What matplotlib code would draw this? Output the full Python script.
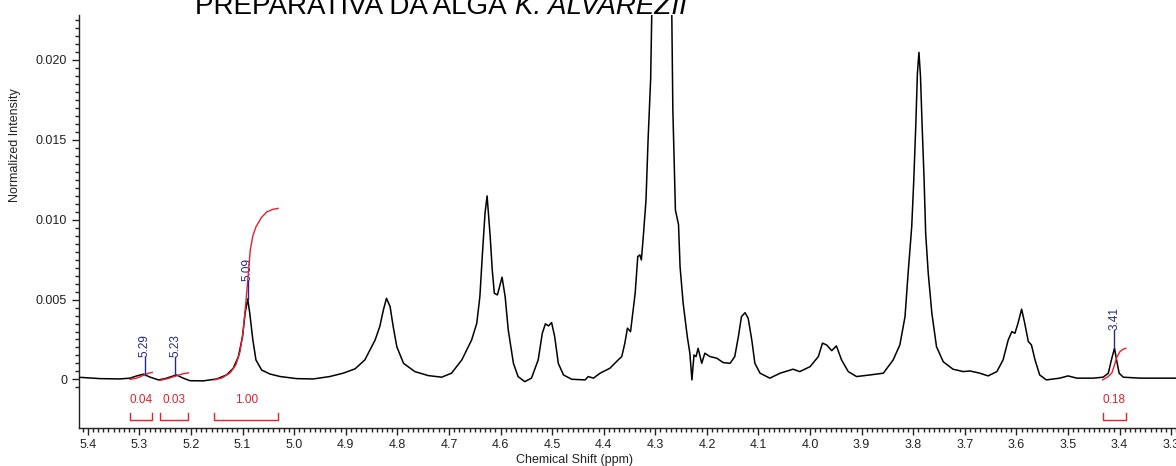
import numpy as np
import matplotlib.pyplot as plt
from matplotlib.ticker import MultipleLocator, FixedLocator

plt.rcParams['font.family'] = ['Liberation Sans', 'DejaVu Sans']

# 1H spectrum: chemical shift (ppm) and normalized intensity (x 1e-3)
shift = [5.415, 5.376, 5.338, 5.318, 5.305, 5.292, 5.279, 5.263, 5.250, 5.228,
         5.215, 5.202, 5.176, 5.150, 5.131, 5.118, 5.108, 5.100, 5.095, 5.090,
         5.086, 5.080, 5.074, 5.063, 5.047, 5.027, 4.995, 4.963, 4.931, 4.905,
         4.882, 4.863, 4.843, 4.834, 4.827, 4.821, 4.814, 4.808, 4.801, 4.788,
         4.766, 4.740, 4.714, 4.695, 4.675, 4.656, 4.646, 4.640, 4.635, 4.630,
         4.626, 4.624, 4.620, 4.616, 4.612, 4.606, 4.601, 4.597, 4.591, 4.585,
         4.575, 4.566, 4.553, 4.540, 4.527, 4.519, 4.513, 4.507, 4.501, 4.495,
         4.488, 4.478, 4.462, 4.436, 4.430, 4.420, 4.407, 4.388, 4.372, 4.365,
         4.359, 4.354, 4.348, 4.339, 4.334, 4.330, 4.327, 4.323, 4.318, 4.314,
         4.309, 4.307, 4.296, 4.285, 4.274, 4.268, 4.266, 4.261, 4.255, 4.252,
         4.246, 4.238, 4.233, 4.229, 4.225, 4.221, 4.217, 4.210, 4.204, 4.194,
         4.181, 4.168, 4.155, 4.146, 4.139, 4.133, 4.126, 4.120, 4.113, 4.107,
         4.097, 4.078, 4.058, 4.033, 4.020, 4.000, 3.984, 3.976, 3.968, 3.958,
         3.949, 3.939, 3.926, 3.910, 3.884, 3.858, 3.839, 3.826, 3.816, 3.810,
         3.803, 3.799, 3.795, 3.792, 3.789, 3.786, 3.783, 3.779, 3.776, 3.771,
         3.764, 3.755, 3.742, 3.723, 3.703, 3.690, 3.671, 3.655, 3.638, 3.626,
         3.616, 3.609, 3.603, 3.597, 3.590, 3.584, 3.577, 3.571, 3.564, 3.555,
         3.542, 3.516, 3.500, 3.483, 3.451, 3.432, 3.422, 3.416, 3.410, 3.406,
         3.401, 3.393, 3.361, 3.322, 3.291, 3.250]
intensity = [0.13, 0.05, 0.03, 0.08, 0.22, 0.33, 0.14, -0.03, 0.05, 0.28,
             0.08, -0.08, -0.09, 0.03, 0.28, 0.70, 1.43, 2.68, 4.15, 5.04,
             4.15, 2.47, 1.22, 0.59, 0.34, 0.18, 0.05, 0.03, 0.18, 0.39,
             0.66, 1.22, 2.47, 3.31, 4.35, 5.08, 4.56, 3.31, 2.05, 1.01,
             0.49, 0.24, 0.14, 0.39, 1.22, 2.47, 3.52, 5.18, 7.90, 10.41,
             11.49, 10.61, 8.94, 6.86, 5.40, 5.29, 5.92, 6.40, 5.18, 3.10,
             1.01, 0.18, -0.14, 0.08, 1.22, 2.89, 3.48, 3.35, 3.56, 2.68,
             1.01, 0.28, 0.01, -0.03, 0.18, 0.08, 0.39, 0.70, 1.22, 1.43,
             2.27, 3.21, 2.99, 5.40, 7.69, 7.80, 7.48, 9.05, 11.24, 15.0,
             18.8, 22.8, 40.0, 50.0, 40.0, 22.8, 16.9, 10.6, 9.7, 7.06,
             4.77, 2.68, 1.64, -0.03, 1.53, 1.43, 1.95, 1.01, 1.64, 1.43,
             1.33, 1.05, 1.01, 1.43, 2.68, 3.93, 4.18, 3.83, 2.47, 1.01,
             0.39, 0.08, 0.39, 0.64, 0.49, 0.80, 1.43, 2.27, 2.16, 1.80,
             2.10, 1.22, 0.49, 0.18, 0.28, 0.39, 1.22, 2.16, 3.93, 6.65,
             9.57, 12.49, 16.04, 19.17, 20.48, 18.96, 16.04, 12.49, 9.15, 6.65,
             4.15, 2.05, 1.11, 0.64, 0.49, 0.53, 0.39, 0.22, 0.49, 1.22,
             2.47, 2.99, 2.89, 3.52, 4.40, 3.52, 2.37, 2.16, 1.22, 0.28,
             -0.03, 0.08, 0.22, 0.08, 0.08, 0.14, 0.39, 1.22, 1.95, 1.22,
             0.39, 0.14, 0.08, 0.08, 0.08, 0.08]

# integral traces over each integrated region (x 1e-3)
integral_shift = [
    [5.318, 5.304, 5.293, 5.283, 5.275],
    [5.260, 5.244, 5.229, 5.217, 5.205],
    [5.155, 5.140, 5.124, 5.113, 5.105, 5.099, 5.094, 5.089, 5.085, 5.080,
     5.074, 5.064, 5.053, 5.041, 5.031],
    [3.433, 3.423, 3.415, 3.410, 3.406, 3.400, 3.394, 3.388],
]
integral_level = [
    [0.00, 0.09, 0.25, 0.38, 0.44],
    [-0.06, 0.06, 0.22, 0.34, 0.41],
    [-0.03, 0.09, 0.41, 0.91, 1.72, 2.97, 4.67, 6.54, 8.11, 8.99,
     9.55, 10.11, 10.49, 10.65, 10.71],
    [-0.03, 0.16, 0.41, 0.91, 1.35, 1.72, 1.88, 1.95],
]

# integration limits and relative areas
integral_ranges = [(5.318, 5.275), (5.260, 5.205), (5.155, 5.031), (3.433, 3.388)]
integral_values = ['0.04', '0.03', '1.00', '0.18']

# picked peaks
peaks = [5.29, 5.23, 5.09, 3.41]

red = '#e8202c'
navy = '#28288c'

shift = np.array(shift)
intensity = np.array(intensity) * 1e-3

fig = plt.figure(figsize=(11.76, 4.66), dpi=100)
ax = fig.add_axes([0.0672, 0.0816, 0.9507, 0.8863])

ax.plot(shift, intensity, color='black', lw=1.1, zorder=3)

for xs, ys in zip(integral_shift, integral_level):
    ax.plot(xs, np.array(ys) * 1e-3, color=red, lw=1.0, zorder=4)

# integration brackets with area labels
y_bar = -2.54e-3
y_end = -2.08e-3
for (x1, x2), val in zip(integral_ranges, integral_values):
    ax.plot([x1, x1, x2, x2], [y_end, y_bar, y_bar, y_end], color=red, lw=1.0,
            clip_on=False)
    ax.text((x1 + x2) / 2, -1.28e-3, val, color=red, fontsize=8.5,
            ha='center', va='center')

# peak markers: stem above the peak top, then rotated shift label
order = np.argsort(shift)
for p in peaks:
    top = np.interp(p, shift[order], intensity[order])
    ax.plot([p, p], [top, top + 1.13e-3], color=navy, lw=1.0, zorder=5)
    ax.text(p, top + 1.13e-3, f'{p:.2f}', rotation=90, color=navy,
            fontsize=8.5, ha='center', va='bottom')

ax.set_xlim(5.4169, 3.25)
ax.set_ylim(-3.04e-3, 22.82e-3)

xmajor = np.round(np.arange(3.3, 5.41, 0.1), 2)
ax.xaxis.set_major_locator(FixedLocator(xmajor))
ax.xaxis.set_minor_locator(MultipleLocator(0.01))
ax.set_xticklabels([f'{v:.1f}' for v in xmajor])
ax.yaxis.set_major_locator(FixedLocator([0, 0.005, 0.010, 0.015, 0.020]))
ax.set_yticklabels(['0', '0.005', '0.010', '0.015', '0.020'])
ax.yaxis.set_minor_locator(FixedLocator(np.arange(-0.0005, 0.0226, 0.0005)))

ax.tick_params(which='both', direction='out', colors='#222222', labelsize=9,
               width=1.0)
ax.tick_params(which='major', length=5)
ax.tick_params(which='minor', length=3)
ax.tick_params(axis='x', pad=3)

for side in ('top', 'right'):
    ax.spines[side].set_visible(False)
for side in ('left', 'bottom'):
    ax.spines[side].set_linewidth(1.0)
    ax.spines[side].set_color('#222222')

fig.text(575 / 1176, 1 - 460 / 466, 'Chemical Shift (ppm)', fontsize=9,
         ha='center', va='center', color='#222222')
fig.text(15 / 1176, 1 - 145 / 466, 'Normalized Intensity', fontsize=9,
         rotation=90, ha='center', va='center', color='#222222')

# title runs off the top edge; species name set in italics
t1 = fig.text(195 / 1176, 1 - 14 / 466, 'PREPARATIVA DA ALGA', fontsize=20,
              ha='left', va='baseline')
ax.annotate('K. ALVAREZII', xy=(1, 0), xycoords=t1, xytext=(6, 0),
            textcoords='offset points', fontsize=20, style='italic',
            ha='left', va='bottom', annotation_clip=False)

fig.savefig('out.png', dpi=100)
